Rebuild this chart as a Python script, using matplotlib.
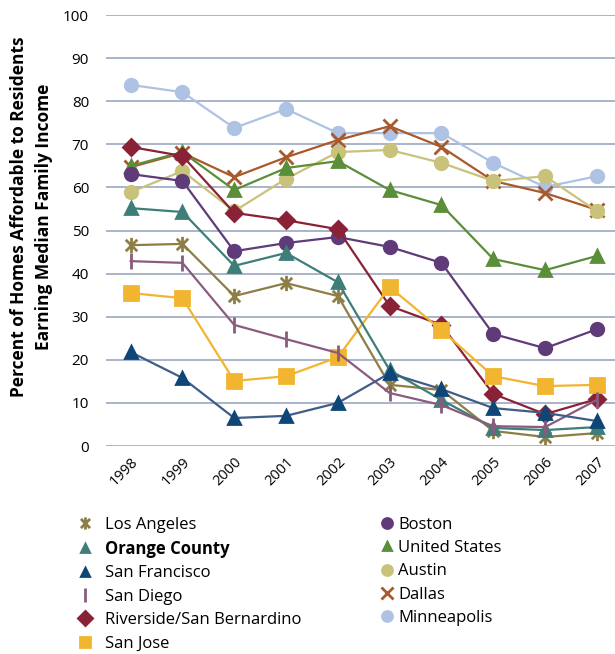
import matplotlib
matplotlib.use('Agg')
import matplotlib.pyplot as plt
from matplotlib.lines import Line2D
from matplotlib.path import Path

plt.rcParams['font.family'] = ['Open Sans', 'DejaVu Sans']

years = [1998, 1999, 2000, 2001, 2002, 2003, 2004, 2005, 2006, 2007]

los_angeles = [46.6, 46.9, 34.8, 37.8, 34.8, 14.2, 13.0, 3.5, 2.1, 3.0]
orange_county = [55.2, 54.3, 41.8, 44.8, 38.0, 17.6, 10.7, 4.2, 3.7, 4.4]
san_francisco = [21.8, 15.8, 6.5, 7.0, 10.0, 16.9, 13.2, 8.8, 7.7, 5.8]
san_diego = [42.9, 42.5, 28.1, 24.8, 21.6, 12.3, 9.5, 4.6, 4.4, 10.7]
riverside = [69.4, 67.3, 54.1, 52.4, 50.3, 32.5, 28.1, 12.1, 7.4, 10.9]
san_jose = [35.5, 34.3, 15.1, 16.2, 20.6, 36.9, 26.9, 16.2, 13.9, 14.2]
boston = [63.1, 61.5, 45.2, 47.1, 48.5, 46.2, 42.5, 26.0, 22.7, 27.1]
united_states = [65.0, 68.2, 59.4, 64.5, 66.1, 59.4, 55.9, 43.4, 40.8, 44.1]
austin = [58.9, 63.8, 54.5, 62.0, 68.2, 68.7, 65.7, 61.5, 62.6, 54.5]
dallas = [64.7, 68.0, 62.4, 67.0, 71.0, 74.2, 69.4, 61.5, 58.7, 54.8]
minneapolis = [83.8, 82.1, 73.8, 78.2, 72.6, 72.6, 72.6, 65.7, 60.1, 62.6]

# asterisk marker: vertical bar plus an X
star = Path([(0, -1), (0, 1), (-0.75, -0.75), (0.75, 0.75), (-0.75, 0.75), (0.75, -0.75)],
            [Path.MOVETO, Path.LINETO, Path.MOVETO, Path.LINETO, Path.MOVETO, Path.LINETO])

# name, values, color, marker, markersize
series = [
    ('Minneapolis', minneapolis, '#AEC3E3', 'o', 9),
    ('Dallas', dallas, '#A9592A', 'x', 10),
    ('Austin', austin, '#C9C27B', 'o', 9),
    ('United States', united_states, '#5B8E38', '^', 8),
    ('Boston', boston, '#5F3B7A', 'o', 9),
    ('Riverside/San Bernardino', riverside, '#8A2237', 'D', 8.5),
    ('San Jose', san_jose, '#F1B52F', 's', 9.5),
    ('Los Angeles', los_angeles, '#8D7E45', star, 11),
    ('Orange County', orange_county, '#3E7E78', '^', 8),
    ('San Diego', san_diego, '#8A5B7E', '|', 12),
    ('San Francisco', san_francisco, '#0E4677', '^', 8),
]
styles = {}

fig = plt.figure(figsize=(6.15, 6.54), dpi=100)
ax = fig.add_axes([0.172, 0.318, 0.828, 0.659])

for name, vals, color, marker, ms in series:
    line_color = '#3F5D87' if name == 'San Francisco' else color
    ax.plot(years, vals, color=line_color, lw=1.6, marker=marker, ms=ms,
            mfc=color, mec=color, mew=2, clip_on=False, zorder=3)
    styles[name] = (color, marker, ms)

ax.set_ylim(0, 100)
ax.set_xlim(1997.52, 2007.35)
ax.set_yticks(range(0, 101, 10))
ax.set_xticks(years)
ax.set_xticklabels([str(y) for y in years], rotation=45, ha='right',
                   rotation_mode='anchor', fontsize=10.5)
ax.tick_params(axis='y', labelsize=11, length=0, pad=12)
ax.tick_params(axis='x', length=0, pad=6)
ax.grid(axis='y', color='#A9B4C9', lw=1.4)
ax.set_axisbelow(True)
for s in ax.spines.values():
    s.set_visible(False)

fig.text(0.052, 0.668, 'Percent of Homes Affordable to Residents\nEarning Median Family Income',
         rotation=90, ha='center', va='center', fontsize=12.5, fontweight='bold',
         linespacing=1.5)

col1 = ['Los Angeles', 'Orange County', 'San Francisco', 'San Diego',
        'Riverside/San Bernardino', 'San Jose']
col2 = ['Boston', 'United States', 'Austin', 'Dallas', 'Minneapolis']


def handles_for(names):
    hs = []
    for n in names:
        color, marker, ms = styles[n]
        hs.append(Line2D([], [], ls='none', marker=marker, color=color, mfc=color,
                         mec=color, mew=2, ms=ms * 0.8))
    return hs


leg1 = fig.legend(handles_for(col1), col1, loc='upper left', bbox_to_anchor=(0.111, 0.22),
                  frameon=False, fontsize=12, handlelength=1.2, handletextpad=0.6,
                  labelspacing=0.44, borderaxespad=0)
for t in leg1.get_texts():
    if t.get_text() == 'Orange County':
        t.set_fontweight('bold')
fig.legend(handles_for(col2), col2, loc='upper left', bbox_to_anchor=(0.6075, 0.22),
           frameon=False, fontsize=12, handlelength=0.8, handletextpad=0.26,
           labelspacing=0.44, borderaxespad=0)

fig.savefig('out.png', dpi=100)
